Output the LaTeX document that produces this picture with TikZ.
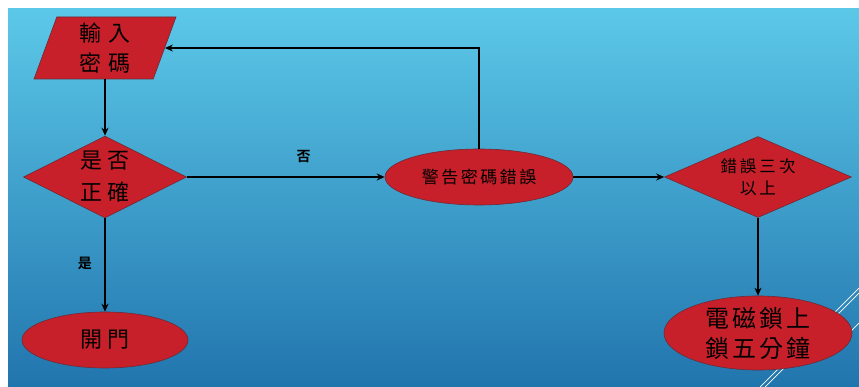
\documentclass[tikz,border=0pt]{standalone}
\usepackage{fontspec}
\newfontfamily\cjk[BoldFont={Noto Sans CJK TC Bold}]{Noto Sans CJK TC}
\usetikzlibrary{shapes.geometric,arrows.meta}
\definecolor{bgtop}{HTML}{5CC8E8}
\definecolor{bgmid}{HTML}{3CA0D2}
\definecolor{bgbot}{HTML}{2175AD}
\definecolor{boxred}{HTML}{C8202A}
\definecolor{boxline}{HTML}{6E2A35}
\tikzset{
  box/.style={fill=boxred, draw=boxline, line width=0.6pt, inner sep=0pt, text=black, align=center},
  arr/.style={line width=1.6pt, -{Stealth[length=8pt,width=7pt]}},
  lbl/.style={font=\cjk\bfseries\fontsize{14}{16}\selectfont, text=black},
  deco/.style={white, line width=0.7pt}
}
\begin{document}
\begin{tikzpicture}[x=1pt,y=-1pt]
\useasboundingbox (0,0) rectangle (859,387);
\fill[white] (0,0) rectangle (859,387);
\shade[top color=bgtop, middle color=bgmid, bottom color=bgbot] (8,9) rectangle (859,387);
\draw[deco] (760,387) -- (859,288);
\draw[deco] (765,387) -- (859,293);
\draw[deco] (835,347) -- (859,323);

\node[box, trapezium, trapezium left angle=65.7, trapezium right angle=114.3,
  trapezium stretches body, minimum width=142pt, minimum height=62pt,
  font=\cjk\fontsize{22}{30}\selectfont] (inp) at (105,48) {輸\kern8pt 入\\密\kern8pt 碼};
\node[box, diamond, aspect=2, minimum width=163pt, minimum height=82pt,
  font=\cjk\fontsize{22}{32}\selectfont] (dec1) at (105,177) {是\kern5pt 否\\正\kern5pt 確};
\node[box, ellipse, minimum width=166pt, minimum height=56pt,
  font=\cjk\fontsize{22}{30}\selectfont] (open) at (105,340) {開\kern5pt 門};
\node[box, ellipse, minimum width=188pt, minimum height=56pt,
  font=\cjk\fontsize{17}{20}\selectfont] (warn) at (479,177) {警\kern2.5pt 告\kern2.5pt 密\kern2.5pt 碼\kern2.5pt 錯\kern2.5pt 誤};
\node[box, diamond, aspect=2.3, minimum width=187pt, minimum height=81pt,
  font=\cjk\fontsize{16.5}{22}\selectfont] (dec2) at (758,177) {錯\kern3pt 誤\kern3pt 三\kern3pt 次\\以\kern3pt 上};
\node[box, ellipse, minimum width=188pt, minimum height=72pt,
  font=\cjk\fontsize{24}{30}\selectfont] (lock) at (758,333) {電\kern3pt 磁\kern3pt 鎖\kern3pt 上\\鎖\kern3pt 五\kern3pt 分\kern3pt 鐘};

\draw[arr] (inp.south -| dec1.north) -- (dec1.north);
\draw[arr] (dec1.south) -- node[lbl, pos=0.48, left=9pt] (yes) {是} (open.north);
\draw[arr] (dec1.east) -- node[lbl, pos=0.59, above=10pt] (no) {否} (warn.west);
\draw[arr] (warn.north) |- (inp.east);
\draw[arr] (warn.east) -- (dec2.west);
\draw[arr] (dec2.south) -- (lock.north);
\end{tikzpicture}
\end{document}
